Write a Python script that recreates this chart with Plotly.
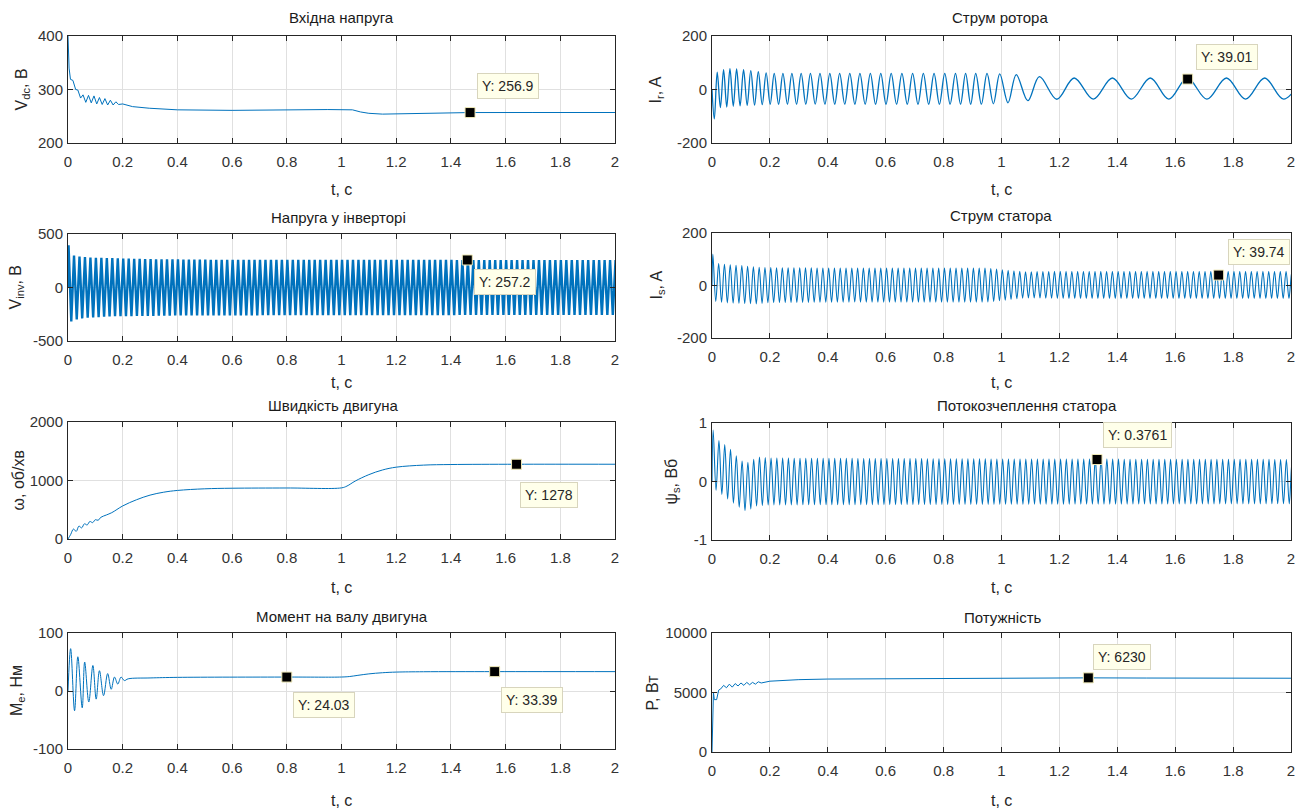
import numpy as np
import plotly.graph_objects as go

W, H = 1306, 810

# ---------------- data ----------------
# Вхідна напруга
t_vdc = [0, 0.004, 0.009, 0.018, 0.028, 0.036, 0.046, 0.055, 0.065, 0.075,
         0.085, 0.095, 0.105, 0.115, 0.125, 0.135, 0.145, 0.155, 0.165, 0.175,
         0.185, 0.2, 0.236, 0.297, 0.4, 0.6, 0.95, 1.02, 1.04, 1.07,
         1.1, 1.15, 1.3, 1.47, 1.7, 2.0]
v_dc = [400, 340, 319, 317, 300, 299, 284, 290, 276, 289,
        275, 288, 273, 285, 272, 283, 271, 280, 271, 277,
        272, 273, 268, 265, 262, 261, 262.5, 263, 262, 258,
        255.5, 254, 256, 256.9, 257, 257]

# Напруга у інверторі: envelope of the ~50 Hz band
vinv_freq = 50
vinv_first = 0.002
vinv_up_t = [0.002, 0.02, 0.04, 0.08, 0.15, 0.3, 0.5, 1.0, 2.1]
vinv_up = [395, 300, 290, 280, 275, 265, 260, 258, 257]
vinv_lo_t = [0.008, 0.03, 0.06, 0.15, 0.4, 1.0, 2.1]
vinv_lo = [-320, -300, -285, -270, -262, -258, -257]

# Швидкість двигуна
t_w = [0, 0.01, 0.02, 0.03, 0.04, 0.05, 0.06, 0.07, 0.08, 0.09,
       0.1, 0.11, 0.12, 0.14, 0.16, 0.2, 0.25, 0.3, 0.35, 0.4,
       0.5, 0.6, 0.8, 1.0, 1.02, 1.05, 1.1, 1.15, 1.2, 1.3,
       1.4, 1.64, 2.0]
w = [0, 80, 170, 130, 220, 190, 260, 240, 300, 280,
     330, 320, 370, 410, 450, 565, 670, 750, 800, 830,
     858, 868, 872, 874, 905, 990, 1100, 1180, 1228, 1263,
     1273, 1278, 1278]

# Момент на валу двигуна
t_m = [0, 0.0097, 0.024, 0.036, 0.052, 0.061, 0.076, 0.091, 0.103, 0.115,
       0.13, 0.145, 0.158, 0.17, 0.182, 0.194, 0.206, 0.22, 0.3, 0.4,
       0.8, 1.0, 1.03, 1.06, 1.1, 1.15, 1.2, 1.3, 1.56, 2.0]
m_e = [0, 73, -34, 59, -29, 50, -19, 44, -14, 35,
       -8, 30, 3, 24, 12, 24, 18, 21, 22.5, 23.5,
       24.03, 24.1, 25, 27, 29.5, 31.5, 32.6, 33.2, 33.39, 33.4]

# Струм ротора: start, peak times and envelopes
ir_start_t = [0, 0.008]
ir_start = [0, -110]
ir_peak_t = [0.018, 0.040, 0.062, 0.085, 0.109, 0.134, 0.160, 0.187, 0.215, 0.245,
             0.276, 0.308, 0.340, 0.373, 0.407, 0.441, 0.476, 0.511, 0.547, 0.583,
             0.619, 0.656, 0.693, 0.730, 0.767, 0.804, 0.841, 0.876, 0.911, 0.950,
             0.994, 1.051, 1.131, 1.251, 1.383, 1.514, 1.642, 1.777, 1.909, 2.04]
ir_up_t = [0.018, 0.05, 0.1, 0.2, 0.95, 1.05, 1.13, 1.25, 2.1]
ir_up = [65, 78, 76, 60, 60, 56, 48, 43, 43]
ir_lo_t = [0.03, 0.08, 0.2, 0.95, 1.02, 1.09, 1.2, 2.1]
ir_lo = [-68, -62, -55, -55, -50, -42, -36, -36]

# Струм статора: envelope of the ~50 Hz oscillation
is_freq = 50
is_first = 0.003
is_up_t = [0.003, 0.02, 0.05, 0.1, 0.15, 0.2, 0.5, 0.95, 1.02, 1.08, 1.2, 2.1]
is_up = [120, 84, 80, 76, 70, 68, 66, 66, 58, 52, 54, 54]
is_lo_t = [0.01, 0.05, 0.1, 0.16, 0.2, 0.5, 0.95, 1.02, 1.08, 1.2, 2.1]
is_lo = [-60, -66, -68, -70, -65, -63, -63, -55, -47, -49, -49]

# Потокозчеплення статора
psi_freq = 50
psi_first = 0.004
psi_up_t = [0.004, 0.024, 0.044, 0.064, 0.084, 0.104, 0.124, 0.144, 0.164, 0.2, 1.0, 2.1]
psi_up = [0.88, 0.70, 0.63, 0.55, 0.44, 0.35, 0.33, 0.38, 0.42, 0.40, 0.385, 0.376]
psi_lo_t = [0.014, 0.034, 0.054, 0.074, 0.094, 0.114, 0.134, 0.154, 0.2, 1.0, 2.1]
psi_lo = [-0.15, -0.22, -0.30, -0.37, -0.44, -0.50, -0.47, -0.42, -0.40, -0.39, -0.38]

# Потужність
t_p = [0, 0.002, 0.005, 0.008, 0.016, 0.023, 0.03, 0.04, 0.05, 0.06,
       0.07, 0.08, 0.09, 0.1, 0.11, 0.12, 0.13, 0.14, 0.15, 0.16,
       0.17, 0.2, 0.3, 0.4, 0.6, 1.0, 1.05, 1.1, 1.2, 1.3,
       1.5, 2.0]
p = [0, 3500, 5000, 4400, 4400, 5200, 5300, 5600, 5400, 5700,
     5450, 5750, 5550, 5800, 5600, 5850, 5650, 5850, 5700, 5900,
     5800, 5950, 6080, 6130, 6160, 6160, 6170, 6200, 6225, 6230,
     6215, 6200]

# Data tips (panel index, t, value)
tip_panel = [0, 1, 2, 3, 3, 4, 5, 6, 7]
tip_t = [1.47, 1.46, 1.64, 0.80, 1.56, 1.643, 1.75, 1.33, 1.30]
tip_y = [256.9, 257.2, 1278, 24.03, 33.39, 39.01, 39.74, 0.3761, 6230]
tip_text = ["256.9", "257.2", "1278", "24.03", "33.39", "39.01", "39.74", "0.3761", "6230"]

titles = ["Вхідна напруга", "Напруга у інверторі", "Швидкість двигуна",
          "Момент на валу двигуна", "Струм ротора", "Струм статора",
          "Потокозчеплення статора", "Потужність"]
ytitles = ["V<sub>dc</sub>, В", "V<sub>inv</sub>, В", "ω, об/хв", "M<sub>e</sub>, Нм",
           "I<sub>r</sub>, A", "I<sub>s</sub>, A", "ψ<sub>s</sub>, Вб", "P, Вт"]
xtitle = "t, с"
x_ticks = [0, 0.2, 0.4, 0.6, 0.8, 1, 1.2, 1.4, 1.6, 1.8, 2]
x_ticktext = ["0", "0.2", "0.4", "0.6", "0.8", "1", "1.2", "1.4", "1.6", "1.8", "2"]
y_ticks = [[200, 300, 400], [-500, 0, 500], [0, 1000, 2000], [-100, 0, 100],
           [-200, 0, 200], [-200, 0, 200], [-1, 0, 1], [0, 5000, 10000]]
y_ticktext = [[str(v) for v in row] for row in y_ticks]


# ---------------- build oscillating series from extrema ----------------
def alternate(t_ext, up_t, up_v, lo_t, lo_v):
    t_ext = np.asarray(t_ext, dtype=float)
    k = np.arange(len(t_ext))
    v = np.where(k % 2 == 0, np.interp(t_ext, up_t, up_v), np.interp(t_ext, lo_t, lo_v))
    return t_ext, v


def periodic(first, freq, up_t, up_v, lo_t, lo_v, t_end=2.03):
    t_ext = np.arange(first, t_end, 0.5 / freq)
    te, ve = alternate(t_ext, up_t, up_v, lo_t, lo_v)
    return np.concatenate([[0.0], te]), np.concatenate([[0.0], ve])


t_vinv, v_inv = periodic(vinv_first, vinv_freq, vinv_up_t, vinv_up, vinv_lo_t, vinv_lo)
t_is, i_s = periodic(is_first, is_freq, is_up_t, is_up, is_lo_t, is_lo)
t_psi, psi_s = periodic(psi_first, psi_freq, psi_up_t, psi_up, psi_lo_t, psi_lo)

pk = np.asarray(ir_peak_t)
mid = (pk[:-1] + pk[1:]) / 2
ir_ext = np.sort(np.concatenate([pk, mid]))
te, ve = alternate(ir_ext, ir_up_t, ir_up, ir_lo_t, ir_lo)
t_ir = np.concatenate([ir_start_t, te])
i_r = np.concatenate([ir_start, ve])

series = [
    (t_vdc, v_dc, "linear", 1.0),
    (t_vinv, v_inv, "linear", 2.4),
    (t_w, w, "spline", 1.0),
    (t_m, m_e, "spline", 1.0),
    (t_ir, i_r, "spline", 1.3),
    (t_is, i_s, "spline", 1.1),
    (t_psi, psi_s, "spline", 1.1),
    (t_p, p, "linear", 1.0),
]

# ---------------- layout geometry (pixels) ----------------
LX, RX = (68, 615), (712, 1291)
geom = [
    (LX, (36, 143)), (LX, (234, 341)), (LX, (422, 539)), (LX, (633, 749)),
    (RX, (36, 143)), (RX, (233, 338)), (RX, (423, 540)), (RX, (633, 752)),
]
title_pos = [(341, 17), (338, 217), (333, 405), (342, 616),
             (1000, 17), (1001, 215), (1027, 405), (1003, 617)]
xtitle_y = [190, 383, 587, 800, 189, 383, 587, 800]
ytitle_x = [22, 16, 18, 17, 656, 657, 672, 652]
# data-tip box offsets: (anchor_x, anchor_y, xshift, yshift)
tip_box = [("left", "bottom", 7, 14), ("left", "top", 7, -9), ("left", "top", 3, -18),
           ("left", "top", 6, -15), ("left", "top", 6, -15), ("left", "bottom", 8, 9),
           ("left", "bottom", 9, 10), ("left", "bottom", 6, 12), ("left", "bottom", 5, 8)]

FONT = "Liberation Sans, Arial, sans-serif"
AX = "#262626"
GRID = "#e0e0e0"
BLUE = "#0072BD"


def xp(px):
    return px / W


def yp(py):
    return 1 - py / H


fig = go.Figure()
layout = dict(width=W, height=H,
              margin=dict(l=0, r=0, t=0, b=0, pad=0, autoexpand=False), autosize=False,
              paper_bgcolor="white", plot_bgcolor="white", showlegend=False,
              font=dict(family=FONT, color="#333333", size=15))
annotations = []

for i, ((xs, ys), (tx, ty, shape, lw)) in enumerate(zip(geom, series)):
    n = "" if i == 0 else str(i + 1)
    yr = [y_ticks[i][0], y_ticks[i][-1]]
    layout["xaxis" + n] = dict(
        domain=[xp(xs[0]), xp(xs[1])], anchor="y" + n, range=[0, 2], automargin=False,
        tickvals=x_ticks, ticktext=x_ticktext, ticks="inside", ticklen=5,
        tickcolor=AX, showline=True, linecolor=AX, linewidth=1, mirror="ticks",
        showgrid=True, gridcolor=GRID, gridwidth=1, zeroline=False,
        tickfont=dict(family=FONT, size=15, color="#333333"), ticklabelstandoff=5)
    layout["yaxis" + n] = dict(
        domain=[yp(ys[1]), yp(ys[0])], anchor="x" + n, range=yr, automargin=False,
        tickvals=y_ticks[i], ticktext=y_ticktext[i], ticks="inside", ticklen=5,
        tickcolor=AX, showline=True, linecolor=AX, linewidth=1, mirror="ticks",
        showgrid=True, gridcolor=GRID, gridwidth=1, zeroline=False,
        tickfont=dict(family=FONT, size=15, color="#333333"), ticklabelstandoff=1)
    fig.add_trace(go.Scatter(x=tx, y=ty, mode="lines", xaxis="x" + n, yaxis="y" + n,
                             line=dict(color=BLUE, width=lw, shape=shape),
                             hoverinfo="skip"))
    cx, cy = title_pos[i]
    annotations.append(dict(text=titles[i], x=xp(cx), y=yp(cy), xref="paper", yref="paper",
                            xanchor="center", yanchor="middle", showarrow=False,
                            font=dict(family=FONT, size=15, color="#1a1a1a")))
    annotations.append(dict(text=xtitle, x=xp((xs[0] + xs[1]) / 2), y=yp(xtitle_y[i]),
                            xref="paper", yref="paper", xanchor="center", yanchor="middle",
                            showarrow=False, font=dict(family=FONT, size=16, color="#262626")))
    annotations.append(dict(text=ytitles[i], x=xp(ytitle_x[i]), y=yp((ys[0] + ys[1]) / 2),
                            xref="paper", yref="paper", xanchor="center", yanchor="middle",
                            textangle=-90, showarrow=False,
                            font=dict(family=FONT, size=16, color="#262626")))

for k in range(len(tip_t)):
    i = tip_panel[k]
    n = "" if i == 0 else str(i + 1)
    fig.add_trace(go.Scatter(x=[tip_t[k]], y=[tip_y[k]], mode="markers",
                             xaxis="x" + n, yaxis="y" + n, hoverinfo="skip",
                             marker=dict(symbol="square", size=10, color="black",
                                         line=dict(color="#efe9b8", width=1))))
    ax_, ay_, sx, sy = tip_box[k]
    annotations.append(dict(text="Y: " + tip_text[k], x=tip_t[k], y=tip_y[k],
                            xref="x" + n, yref="y" + n, xanchor=ax_, yanchor=ay_,
                            xshift=sx, yshift=sy, showarrow=False,
                            bgcolor="#FFFFEA", bordercolor="#d8d5bd", borderwidth=1,
                            borderpad=4, font=dict(family=FONT, size=14, color="#262626")))

layout["annotations"] = annotations
fig.update_layout(**layout)
fig.write_html("out.html", config={"displayModeBar": False},
               post_script="document.body.style.margin='0';document.body.style.overflow='hidden';")
